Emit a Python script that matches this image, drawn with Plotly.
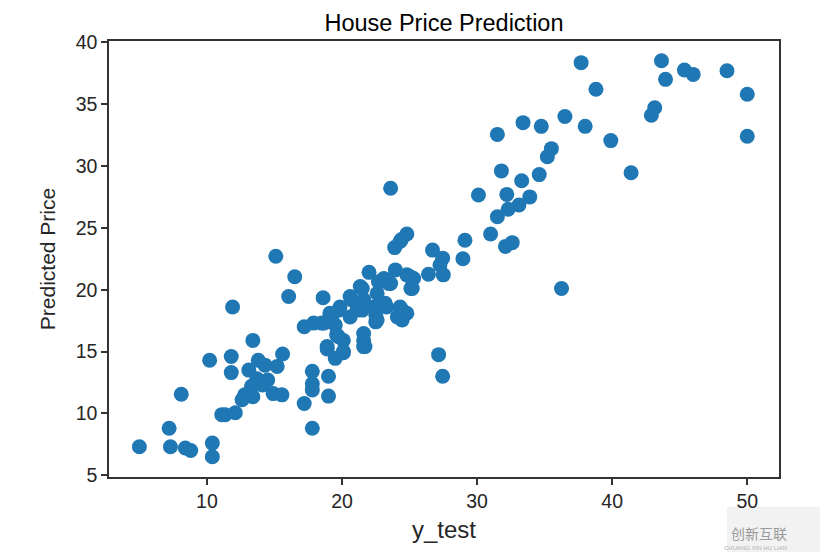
import plotly.graph_objects as go

# Data (y_test vs predicted price)
y_test = [
    5.0, 7.2, 7.3, 8.4, 8.8, 8.1, 10.2, 10.4, 10.4, 11.1, 11.35, 12.1, 11.8, 11.8, 11.9,
    13.4, 15.6, 13.1, 13.8, 14.3, 15.2, 13.7, 14.5, 13.3, 12.8, 12.6, 13.4, 14.9, 15.55,
    14.1, 17.2, 17.8, 17.8, 17.8, 17.8, 19.0, 19.0, 18.9, 15.1, 16.5, 16.05, 18.6, 17.2,
    18.5, 27.15, 27.45, 21.7, 20.1, 19.5, 23.6, 30.1, 32.2, 31.8, 33.3, 34.6, 33.9, 33.1,
    32.3, 31.5, 31.0, 32.1, 32.6, 29.1, 28.95, 24.8, 24.4, 23.9, 26.7, 27.45, 27.25, 26.4,
    27.5, 22.0, 23.95, 24.8, 25.3, 25.1, 21.5, 22.7, 23.45, 20.7, 19.75, 21.5, 22.5, 23.3,
    24.45, 24.8, 19.75, 21.6, 21.6, 19.25, 20.6, 22.5, 24.1, 37.7, 38.8, 43.65, 43.95,
    45.35, 46.0, 48.5, 50.0, 50.0, 43.15, 42.9, 39.9, 38.0, 36.5, 34.75, 33.4, 31.5, 41.4,
    35.5, 35.2, 36.25, 24.3, 20.6, 19.85, 19.1, 18.65, 17.9, 19.5, 22.35, 23.2, 24.3,
    24.45, 22.6, 21.6, 19.6, 20.1, 18.9, 20.1, 23.6, 22.6, 21.6, 21.1, 23.1, 21.35, 25.2,
    25.05,
]
predicted = [
    7.3, 8.8, 7.3, 7.2, 7.0, 11.55, 14.3, 7.6, 6.5, 9.9, 9.9, 10.05, 14.6, 13.3, 18.6,
    15.9, 14.8, 13.5, 14.3, 13.9, 13.8, 12.8, 12.7, 12.2, 11.5, 11.1, 11.35, 11.6, 11.5,
    12.3, 10.8, 8.8, 13.4, 12.4, 11.9, 13.0, 11.4, 15.2, 22.7, 21.05, 19.45, 19.35, 17.0,
    17.3, 14.75, 13.0, 15.4, 14.9, 14.45, 28.2, 27.65, 27.7, 29.6, 28.8, 29.3, 27.5, 26.85,
    26.5, 25.9, 24.5, 23.5, 23.8, 24.0, 22.5, 24.5, 24.05, 23.4, 23.2, 22.55, 22.0, 21.25,
    21.2, 21.4, 21.6, 21.2, 20.9, 20.1, 20.1, 20.65, 20.5, 19.2, 18.35, 18.35, 17.95, 18.6,
    18.35, 18.1, 16.2, 16.45, 15.9, 17.8, 17.8, 17.4, 17.8, 38.35, 36.2, 38.5, 37.0,
    37.75, 37.4, 37.7, 35.8, 32.4, 34.7, 34.1, 32.05, 33.2, 34.0, 33.2, 33.5, 32.55, 29.45,
    31.4, 30.75, 20.1, 23.9, 19.45, 18.6, 18.1, 17.3, 17.3, 17.15, 18.6, 18.9, 18.6,
    17.55, 17.55, 15.4, 16.35, 15.9, 15.4, 15.0, 20.5, 19.7, 19.2, 18.35, 20.9, 20.25, 20.1,
    21.05,
]

x_ticks = [10, 20, 30, 40, 50]
y_ticks = [5, 10, 15, 20, 25, 30, 35, 40]

FONT = "Liberation Sans, Arial, sans-serif"
TXT = "#262626"

fig = go.Figure()
fig.add_trace(go.Scatter(
    x=y_test, y=predicted, mode="markers",
    marker=dict(color="#1f77b4", size=15, line=dict(width=0)),
    showlegend=False,
))

axis_common = dict(
    showline=True, mirror=True, linecolor="#333333", linewidth=1.5,
    ticks="outside", ticklen=6, tickwidth=1.5, tickcolor="#333333",
    showgrid=False, zeroline=False,
    tickfont=dict(family=FONT, size=19.5, color=TXT),
)

fig.update_layout(
    width=820, height=544,
    margin=dict(l=101, r=49, t=33, b=75),
    paper_bgcolor="white", plot_bgcolor="white",
    title=dict(text="House Price Prediction", xref="paper", x=0.5, xanchor="center",
               y=0.972, yanchor="middle",
               font=dict(family=FONT, size=23.5, color="black")),
    xaxis=dict(range=[2.75, 52.35], tickvals=x_ticks,
               title=dict(text="y_test", standoff=10,
                          font=dict(family=FONT, size=24, color=TXT)),
               **axis_common),
    yaxis=dict(range=[4.86, 40.1], tickvals=y_ticks,
               title=dict(text="Predicted Price", standoff=14,
                          font=dict(family=FONT, size=21, color=TXT)),
               **axis_common),
)

# watermark box (bottom right)
fig.add_shape(type="rect", xref="paper", yref="paper",
              x0=0.9224, x1=1.08, y0=-0.19, y1=-0.068,
              fillcolor="#f2f2f2", line=dict(width=0), layer="below")
fig.add_annotation(text="创新互联", xref="paper", yref="paper",
                   x=1.015, y=-0.128, yanchor="middle", showarrow=False,
                   font=dict(family="Noto Sans CJK SC", size=14, color="#9a9a9a"))
fig.add_annotation(text="CHUANG XIN HU LIAN", xref="paper", yref="paper",
                   x=1.015, y=-0.163, yanchor="middle", showarrow=False,
                   font=dict(family=FONT, size=6, color="#b0b0b0"))

fig.write_html("out.html")
